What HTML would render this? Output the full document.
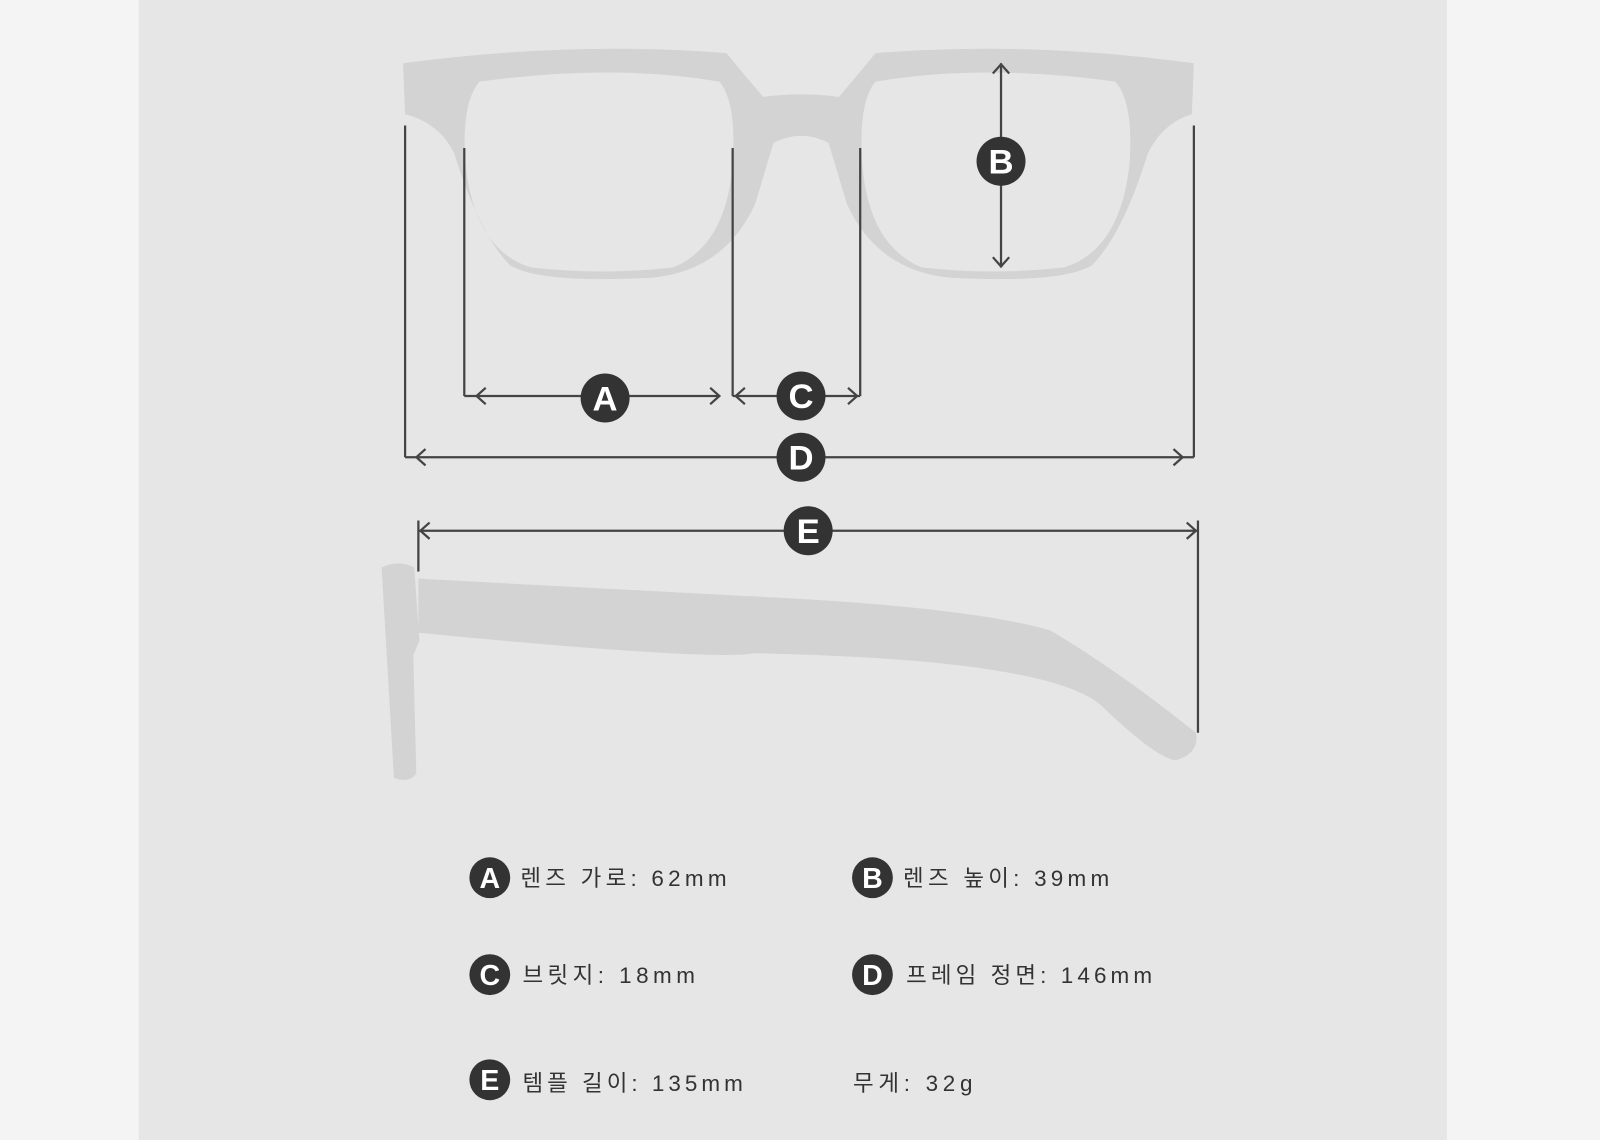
<!DOCTYPE html>
<html><head><meta charset="utf-8"><style>
html,body{margin:0;padding:0;background:#f4f4f4;}
svg{display:block}
text{font-family:"Liberation Sans","Noto Sans CJK KR",sans-serif;}
</style></head><body>
<svg width="1600" height="1140" viewBox="0 0 1568 1117" preserveAspectRatio="none" xmlns="http://www.w3.org/2000/svg">
<rect x="0" y="0" width="1568" height="1117" fill="#f4f4f4"/>
<rect x="136" y="0" width="1282" height="1117" fill="#e6e6e6"/>
<path fill="#d3d3d3" fill-rule="evenodd" d="M395,62 Q560,40 712,52 Q735,80 748,95 Q785,90 822,95 Q835,80 858,52 Q1010,40 1170,62 L1168,112 Q1140,120 1125,150 Q1100,230 1070,260 Q1040,278 930,272 Q860,265 830,200 L812,140 Q785,126 758,140 L740,200 Q710,265 640,272 Q530,278 500,260 Q470,230 445,150 Q430,120 397,112 Z
M470,80 Q600,62 705,80 Q722,100 718,160 Q712,240 660,262 Q590,270 520,262 Q465,245 456,160 Q452,100 470,80 Z
M1093,80 Q963,62 858,80 Q841,100 845,160 Q851,240 903,262 Q973,270 1043,262 Q1098,245 1107,160 Q1111,100 1093,80 Z"/>
<path fill="#d3d3d3" d="M410,567 L730,584 Q950,594 1030,618 Q1100,660 1172,718 Q1176,738 1152,745 Q1132,742 1080,692 Q1030,646 740,640 Q700,648 410,620 Z"/>
<path fill="#d3d3d3" d="M374,556 Q390,548 406,556 L411,628 L405,642 L408,758 Q400,768 386,762 Z"/>
<g stroke="#444" stroke-width="2.2" fill="none">
<line x1="397" y1="123" x2="397" y2="448"/>
<line x1="455" y1="145" x2="455" y2="388"/>
<line x1="718" y1="145" x2="718" y2="388"/>
<line x1="843" y1="145" x2="843" y2="388"/>
<line x1="1170" y1="123" x2="1170" y2="448"/>
<line x1="455" y1="388" x2="705" y2="388"/>
<polyline points="476,380 467,388 476,396"/><polyline points="696,380 705,388 696,396"/>
<line x1="718" y1="388" x2="843" y2="388"/>
<polyline points="730,380 721,388 730,396"/><polyline points="831,380 840,388 831,396"/>
<line x1="397" y1="448" x2="1170" y2="448"/>
<polyline points="417,440 408,448 417,456"/><polyline points="1150,440 1159,448 1150,456"/>
<line x1="410" y1="510" x2="410" y2="560"/>
<line x1="1174" y1="510" x2="1174" y2="718"/>
<line x1="410" y1="520" x2="1174" y2="520"/>
<polyline points="421,512 412,520 421,528"/><polyline points="1163,512 1172,520 1163,528"/>
<line x1="981" y1="62" x2="981" y2="262"/>
<polyline points="973,72 981,63 989,72"/><polyline points="973,252 981,261 989,252"/>
</g>
<g fill="#333">
<circle cx="593" cy="390" r="24"/><circle cx="785" cy="388" r="24"/><circle cx="785" cy="448" r="24"/><circle cx="792" cy="520" r="24"/><circle cx="981" cy="158" r="24"/>
<circle cx="480" cy="860" r="20"/><circle cx="855" cy="860" r="20"/><circle cx="480" cy="955" r="20"/><circle cx="855" cy="955" r="20"/><circle cx="480" cy="1058" r="20"/>
</g>
<g fill="#fff" font-weight="bold" font-size="34" text-anchor="middle">
<text x="593" y="402">A</text><text x="785" y="400">C</text><text x="785" y="460">D</text><text x="792" y="532">E</text><text x="981" y="170">B</text>
</g>
<g fill="#fff" font-weight="bold" font-size="28" text-anchor="middle">
<text x="480" y="870">A</text><text x="855" y="870">B</text><text x="480" y="965">C</text><text x="855" y="965">D</text><text x="480" y="1068">E</text>
</g>
<g fill="#333" font-size="22">
<text x="510" y="868" textLength="202" lengthAdjust="spacing">렌즈 가로: 62mm</text>
<text x="885" y="868" textLength="202" lengthAdjust="spacing">렌즈 높이: 39mm</text>
<text x="512" y="963" textLength="169" lengthAdjust="spacing">브릿지:  18mm</text>
<text x="888" y="963" textLength="241" lengthAdjust="spacing">프레임 정면: 146mm</text>
<text x="512" y="1069" textLength="216" lengthAdjust="spacing">템플 길이: 135mm</text>
<text x="836" y="1069" textLength="117" lengthAdjust="spacing">무게:  32g</text>
</g>
</svg>
</body></html>
